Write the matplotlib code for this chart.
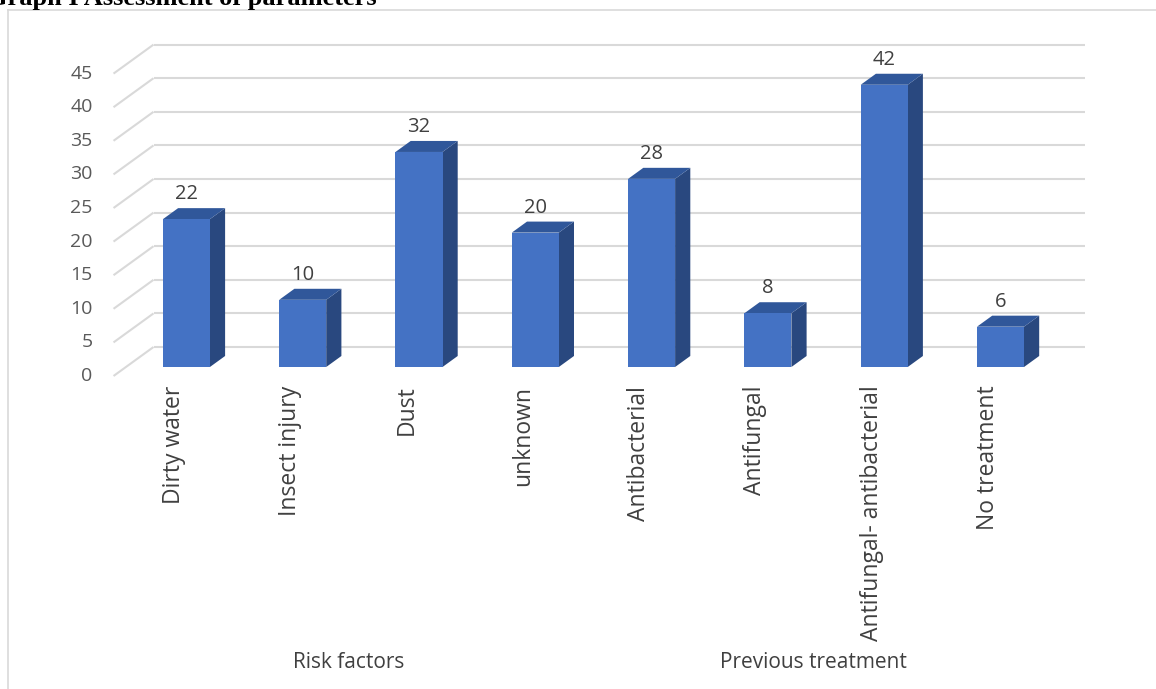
import matplotlib
matplotlib.use("Agg")
import matplotlib.pyplot as plt
from matplotlib.patches import Polygon
from matplotlib.lines import Line2D

# data
categories = ["Dirty water", "Insect injury", "Dust", "unknown",
              "Antibacterial", "Antifungal", "Antifungal- antibacterial", "No treatment"]
values = [22, 10, 32, 20, 28, 8, 42, 6]
groups = ["Risk factors", "Previous treatment"]
group_sizes = [4, 4]
yticks = list(range(0, 50, 5))

plt.rcParams['font.family'] = ['Open Sans', 'DejaVu Sans']

W, H = 1156, 689
fig = plt.figure(figsize=(W / 100, H / 100), dpi=100)
ax = fig.add_axes([0, 0, 1, 1])

# pixel layout of the fake 3D projection
x0px, step = 174, 116.3
y0px, unit = 376, 6.72
ax.set_xlim(-x0px / step, (W - x0px) / step)
ax.set_ylim((y0px - H) / unit, y0px / unit)
ax.axis('off')

DX, DY = 40 / step, 29 / unit   # depth vector (front plane -> back wall)
grid = '#d9d9d9'
front_c, top_c, side_c = '#4472C4', '#30579A', '#29487F'

# walls: left diagonals + back gridlines
xl, xr = -0.52, 7.49
for t in yticks:
    ax.plot([xl, xl + DX], [t, t + DY], color=grid, lw=1.5, zorder=1, solid_capstyle='butt')
    ax.plot([xl + DX, xr + DX], [t + DY, t + DY], color=grid, lw=1.5, zorder=1, solid_capstyle='butt')
    ax.annotate(str(t), (xl, t), xytext=(-15, 0), textcoords='offset points',
                ha='right', va='center', fontsize=14, color='#595959')

# bars
hw = 47 / step / 2
f0, f1 = 0.31, 0.69
for i, v in enumerate(values):
    def p(x, y, f):
        return (x + f * DX, y + f * DY)
    front = [p(i - hw, 0, f0), p(i + hw, 0, f0), p(i + hw, v, f0), p(i - hw, v, f0)]
    top = [p(i - hw, v, f0), p(i + hw, v, f0), p(i + hw, v, f1), p(i - hw, v, f1)]
    side = [p(i + hw, 0, f0), p(i + hw, 0, f1), p(i + hw, v, f1), p(i + hw, v, f0)]
    ax.add_patch(Polygon(side, closed=True, fc=side_c, ec='none', zorder=3))
    ax.add_patch(Polygon(top, closed=True, fc=top_c, ec='none', zorder=3))
    ax.add_patch(Polygon(front, closed=True, fc=front_c, ec='none', zorder=4))
    ax.annotate(str(v), p(i, v, f0), xytext=(0, 18), textcoords='offset points',
                ha='center', va='center', fontsize=14.5, color='#404040', zorder=5)

# category labels
for i, c in enumerate(categories):
    ax.annotate(c, (i, 0), xytext=(0, -7), textcoords='offset points', rotation=90,
                ha='center', va='top', fontsize=16.5, color='#404040')

# group labels
start = 0
for g, n in zip(groups, group_sizes):
    ax.text(start + (n - 1) / 2, (y0px - 663) / unit, g, ha='center', va='center',
            fontsize=15, color='#404040')
    start += n

# chart border (extends past the right and bottom edges)
fig.add_artist(Line2D([8 / W, 1], [1 - 10 / H, 1 - 10 / H], color=grid, lw=1.2))
fig.add_artist(Line2D([8 / W, 8 / W], [0, 1 - 10 / H], color=grid, lw=1.2))

# clipped document caption above the chart
fig.text(377 / W, 1 - 5 / H, "Graph I Assessment of parameters", ha='right', va='baseline',
         fontfamily='Liberation Serif', fontweight='bold', fontsize=19, color='black')

fig.savefig('out.png', dpi=100)
